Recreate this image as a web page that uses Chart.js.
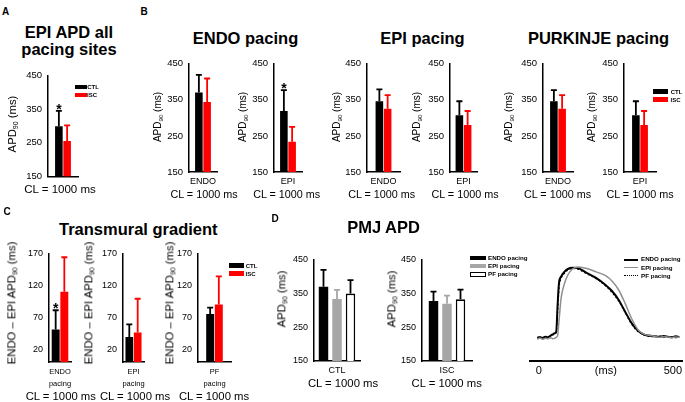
<!DOCTYPE html>
<html>
<head>
<meta charset="utf-8">
<script src="https://cdn.jsdelivr.net/npm/chart.js@4.4.0/dist/chart.umd.min.js"></script>
<style>
  body { margin: 0; background: #fff; }
  #fig { position: relative; width: 685px; height: 402px; overflow: hidden; background: #fff;
         font-family: 'Liberation Sans', Arial, Helvetica, sans-serif; color: #000; }
  #fig canvas { position: absolute; }
  .t { position: absolute; white-space: nowrap; line-height: 1; color: #000; }
  .t sub { font-size: 0.62em; vertical-align: -0.3em; line-height: 0; }
  .bx { position: absolute; box-sizing: border-box; }
</style>
</head>
<body>
<div id="fig"></div>
<script>
// ---------- data ----------
const groups = ['CTL', 'ISC'];
const groupColors = ['#000000', '#ff0000'];
const apdTicks = [150, 250, 350, 450];

// A: EPI APD, all pacing sites
const epiAllMean = [299, 255];
const epiAllSd = [46, 47];
const epiAllSig = [true, false];

// B: recording sites [ENDO, EPI] for each pacing site
const recSites = ['ENDO', 'EPI'];
const pacingTitles = ['ENDO pacing', 'EPI pacing', 'PURKINJE pacing'];
const endoPacCtl = [370, 319], endoPacCtlSd = [49, 58];
const endoPacIsc = [344, 234], endoPacIscSd = [65, 41];
const endoPacSig = [false, true];
const epiPacCtl = [346, 307], epiPacCtlSd = [33, 39];
const epiPacIsc = [325, 280], epiPacIscSd = [38, 39];
const purkPacCtl = [346, 307], purkPacCtlSd = [31, 39];
const purkPacIsc = [325, 280], purkPacIscSd = [38, 39];

// C: transmural gradient (ENDO - EPI APD90)
const gradLabels = [['ENDO', 'pacing'], ['EPI', 'pacing'], ['PF', 'pacing']];
const gradTicks = [20, 70, 120, 170];
const gradCtl = [51, 39, 75], gradCtlSd = [30, 20, 10];
const gradIsc = [110, 46, 90], gradIscSd = [54, 53, 44];
const gradSig = [true, false, false];

// D: PMJ APD, [CTL, ISC]
const pmjGroups = ['CTL', 'ISC'];
const pmjSeries = ['ENDO pacing', 'EPI pacing', 'PF pacing'];
const pmjColors = ['#000000', '#a6a6a6', '#ffffff'];
const pmjEndo = [369, 327], pmjEndoSd = [50, 28];
const pmjEpi = [333, 319], pmjEpiSd = [27, 24];
const pmjPf = [349, 332], pmjPfSd = [40, 29];

// D: action potential traces (time in ms, amplitude in arbitrary units)
const traceT    = [-6, 4, 14, 24, 34, 44, 52, 59, 65, 70, 75, 83, 96, 108, 126, 145, 175, 212, 249, 273, 298, 322, 347, 371, 396, 414, 432, 450, 466, 481, 496, 510, 524];
const traceEndo = [2, 4, 1, 5, 3, 8, 12, 15, 20, 100, 165, 185, 200, 208, 212, 211, 198, 182, 160, 142, 115, 80, 45, 22, 10, 8, 6, 4, 7, 5, 3, 6, 4];
const traceEpi  = [-2, 1, -3, 0, -1, 2, -1, 0, 3, 8, 50, 120, 165, 190, 208, 214, 210, 200, 188, 172, 145, 105, 58, 25, 11, 9, 6, 3, 5, 4, 2, 4, 3];
const tracePf   = [1, -1, 3, 2, 4, 6, 10, 14, 18, 80, 150, 180, 196, 205, 210, 208, 196, 180, 158, 138, 112, 78, 42, 20, 9, 6, 5, 7, 3, 4, 5, 2, 4];
const traceTicks = [0, 250, 500];

// ---------- helpers ----------
const FONT = "'Liberation Sans', Arial, Helvetica, sans-serif";
Chart.defaults.font.family = FONT;
Chart.defaults.color = '#000';
const fig = document.getElementById('fig');

function put(html, x, y, css, rot) {
    const d = document.createElement('div');
    d.className = 't';
    d.innerHTML = html;
    d.style.left = x + 'px';
    d.style.top = y + 'px';
    d.style.transform = 'translate(-50%,-50%)' + (rot ? ' rotate(-90deg)' : '');
    Object.assign(d.style, css || {});
    fig.appendChild(d);
}

function box(x, y, w, h, bg, border) {
    const d = document.createElement('div');
    d.className = 'bx';
    Object.assign(d.style, {left: x + 'px', top: y + 'px', width: w + 'px', height: h + 'px', background: bg});
    if (border) d.style.border = border;
    fig.appendChild(d);
}

// error bars (upper only) and significance stars
const errorBars = {
    id: 'errorBars',
    afterDatasetsDraw(chart) {
        const ctx = chart.ctx, y = chart.scales.y;
        chart.data.datasets.forEach((ds, i) => {
            if (!ds.sd) return;
            chart.getDatasetMeta(i).data.forEach((bar, j) => {
                const top = y.getPixelForValue(ds.data[j] + ds.sd[j]);
                ctx.save();
                ctx.strokeStyle = ds.errColor;
                ctx.lineWidth = 1.8;
                ctx.beginPath();
                ctx.moveTo(bar.x, bar.y);
                ctx.lineTo(bar.x, top);
                ctx.moveTo(bar.x - 3, top);
                ctx.lineTo(bar.x + 3, top);
                ctx.stroke();
                if (ds.sig && ds.sig[j]) {
                    ctx.fillStyle = '#000';
                    ctx.font = 'bold 14px ' + FONT;
                    ctx.textAlign = 'center';
                    ctx.textBaseline = 'alphabetic';
                    ctx.fillText('*', bar.x, top + 3);
                }
                ctx.restore();
            });
        });
    }
};

function barChart(o) {
    const L = o.axisX - 30, T = o.yTop - 8;
    const padR = 10, padB = 2;
    const W = o.right + padR - L;
    const H = o.yBottom + o.xH + padB - T;
    const cv = document.createElement('canvas');
    cv.width = W; cv.height = H;
    cv.style.left = L + 'px';
    cv.style.top = T + 'px';
    fig.appendChild(cv);
    return new Chart(cv, {
        type: 'bar',
        data: {labels: o.labels, datasets: o.datasets},
        options: {
            responsive: false,
            animation: false,
            events: [],
            layout: {padding: {left: 0, top: 8, right: padR, bottom: padB}},
            datasets: {bar: {categoryPercentage: o.cp, barPercentage: o.bp || 0.92}},
            plugins: {legend: {display: false}, tooltip: {enabled: false}},
            scales: {
                x: {
                    offset: true,
                    grid: {display: false, drawTicks: false},
                    border: {color: '#000', width: 1.5},
                    ticks: {font: {size: o.xFont, lineHeight: o.xLH || 1.2}, padding: 4,
                            maxRotation: 0, minRotation: 0, autoSkip: false},
                    afterFit: s => { s.height = o.xH; }
                },
                y: {
                    min: o.min, max: o.max,
                    grid: {display: false, drawTicks: false},
                    border: {color: '#000', width: 1.5},
                    ticks: {font: {size: o.tickFont}, padding: 6},
                    afterBuildTicks: s => { s.ticks = o.ticks.map(v => ({value: v})); },
                    afterFit: s => { s.width = o.axisX - L; }
                }
            }
        },
        plugins: [errorBars]
    });
}

function pairSets(ctl, ctlSd, isc, iscSd, idx, sig) {
    return [
        {label: groups[0], data: [ctl[idx]], sd: [ctlSd[idx]], sig: [sig ? sig[idx] : false],
         backgroundColor: groupColors[0], errColor: groupColors[0]},
        {label: groups[1], data: [isc[idx]], sd: [iscSd[idx]],
         backgroundColor: groupColors[1], errColor: groupColors[1]}
    ];
}

const apdTitle = 'APD<sub>90</sub> (ms)';
const clText = 'CL = 1000 ms';

// ---------- panel A ----------
put('A', 5.5, 11.5, {fontSize: '10px', fontWeight: 'bold'});
put('EPI APD all', 69, 32, {fontSize: '16.5px', fontWeight: 'bold'});
put('pacing sites', 69, 49, {fontSize: '16.5px', fontWeight: 'bold'});
barChart({
    axisX: 47.5, right: 78, yTop: 72.3, yBottom: 182.7, min: 150, max: 450, ticks: apdTicks,
    labels: [''], xH: 4, xFont: 9, tickFont: 9.5, cp: 0.55,
    datasets: [
        {label: groups[0], data: [epiAllMean[0]], sd: [epiAllSd[0]], sig: [epiAllSig[0]],
         backgroundColor: groupColors[0], errColor: groupColors[0]},
        {label: groups[1], data: [epiAllMean[1]], sd: [epiAllSd[1]], sig: [epiAllSig[1]],
         backgroundColor: groupColors[1], errColor: groupColors[1]}
    ]
});
put(apdTitle, 13.3, 124, {fontSize: '11.3px'}, true);
put(clText, 60, 190, {fontSize: '11.5px'});
box(75, 85, 11.7, 4.3, groupColors[0]);
box(75, 92.7, 11.7, 4.3, groupColors[1]);
put(groups[0], 93, 87.2, {fontSize: '6px', fontWeight: 'bold'});
put(groups[1], 92, 94.9, {fontSize: '6px', fontWeight: 'bold'});

// ---------- panel B ----------
put('B', 144, 11.5, {fontSize: '10px', fontWeight: 'bold'});
const bTitleX = [245.5, 422.5, 598.5];
pacingTitles.forEach((t, i) => put(t, bTitleX[i], 37.5, {fontSize: '16.5px', fontWeight: 'bold'}));
const bData = [
    [endoPacCtl, endoPacCtlSd, endoPacIsc, endoPacIscSd, endoPacSig],
    [epiPacCtl, epiPacCtlSd, epiPacIsc, epiPacIscSd, null],
    [purkPacCtl, purkPacCtlSd, purkPacIsc, purkPacIscSd, null]
];
const bAxes = [[189, 217], [274, 302], [367, 400], [450, 477], [543, 573], [624, 656]];
const bTitleXs = [158, 242.7, 336.7, 416.7, 509, 591.7];
const bClXs = [204, 286.7, 381.7, 465, 557.5, 640];
bData.forEach((d, p) => {
    recSites.forEach((site, s) => {
        const k = p * 2 + s;
        const [ax, rt] = bAxes[k];
        barChart({
            axisX: ax, right: rt, yTop: 60, yBottom: 172.7, min: 150, max: 450, ticks: apdTicks,
            labels: [site], xH: 16, xFont: 9, tickFont: 9.5, cp: 16.5 / (rt - ax),
            datasets: pairSets(d[0], d[1], d[2], d[3], s, d[4])
        });
        put(apdTitle, bTitleXs[k], 117, {fontSize: '10px'}, true);
        put(clText, bClXs[k], 194, {fontSize: '10.8px'});
    });
});
box(653.3, 89.3, 15, 5, groupColors[0]);
box(653.3, 97.3, 15, 5, groupColors[1]);
put(groups[0], 676.5, 91.8, {fontSize: '6px', fontWeight: 'bold'});
put(groups[1], 675.5, 99.8, {fontSize: '6px', fontWeight: 'bold'});

// ---------- panel C ----------
put('C', 7, 211.7, {fontSize: '10px', fontWeight: 'bold'});
put('Transmural gradient', 138.3, 228.7, {fontSize: '16.5px', fontWeight: 'bold'});
const cAxes = [[49, 71], [123.3, 145], [198, 231]];
const cTitleXs = [11.7, 89.3, 170];
const cClXs = [60.8, 135, 214];
gradLabels.forEach((lab, i) => {
    const [ax, rt] = cAxes[i];
    barChart({
        axisX: ax, right: rt, yTop: 250, yBottom: 362.7, min: 0, max: 170, ticks: gradTicks,
        labels: [lab], xH: 30, xFont: 7.5, xLH: 1.55, tickFont: 9, cp: 17.3 / (rt - ax),
        datasets: pairSets(gradCtl, gradCtlSd, gradIsc, gradIscSd, i, gradSig)
    });
    put('ENDO \u2013 EPI APD<sub>90</sub> (ms)', cTitleXs[i], 303.3, {fontSize: '11.3px'}, true);
    put(clText, cClXs[i], 397, {fontSize: '11.3px'});
});
box(228.5, 263, 15, 5, groupColors[0]);
box(228.5, 271, 15, 5, groupColors[1]);
put(groups[0], 251.5, 265.5, {fontSize: '6px', fontWeight: 'bold'});
put(groups[1], 250.5, 273.5, {fontSize: '6px', fontWeight: 'bold'});

// ---------- panel D ----------
put('D', 275, 219.2, {fontSize: '10px', fontWeight: 'bold'});
put('PMJ APD', 383.5, 227.2, {fontSize: '16.5px', fontWeight: 'bold'});
const dAxes = [[314, 360], [422, 472]];
const dTitleXs = [281.7, 392];
const dClXs = [343, 446.7];
const pmjMeans = [pmjEndo, pmjEpi, pmjPf], pmjSds = [pmjEndoSd, pmjEpiSd, pmjPfSd];
pmjGroups.forEach((g, i) => {
    const [ax, rt] = dAxes[i];
    barChart({
        axisX: ax, right: rt, yTop: 256, yBottom: 361, min: 150, max: 450, ticks: apdTicks,
        labels: [g], xH: 16, xFont: 9, tickFont: 9, cp: 40.5 / (rt - ax), bp: 0.7,
        datasets: pmjSeries.map((name, k) => ({
            label: name, data: [pmjMeans[k][i]], sd: [pmjSds[k][i]],
            backgroundColor: pmjColors[k],
            borderColor: '#000', borderWidth: k === 2 ? 1.6 : 0,
            errColor: k === 1 ? '#a6a6a6' : '#000'
        }))
    });
    put(apdTitle, dTitleXs[i], 298.5, {fontSize: '11.3px'}, true);
    put(clText, dClXs[i], 383.5, {fontSize: '11.3px'});
});
box(469.5, 255.5, 16, 4.5, pmjColors[0]);
box(469.5, 263.8, 16, 4.5, pmjColors[1]);
box(469.5, 272, 16, 4.8, '#fff', '1.3px solid #000');
pmjSeries.forEach((s, k) => {
    const d = document.createElement('div');
    d.className = 't';
    d.textContent = s;
    Object.assign(d.style, {left: '488px', top: (254.5 + k * 8.3) + 'px', fontSize: '6.2px', fontWeight: 'bold'});
    fig.appendChild(d);
});

// trace panel
(function () {
    const L = 528, T = 245, W = 157, H = 135;
    const cv = document.createElement('canvas');
    cv.width = W; cv.height = H;
    cv.style.left = L + 'px';
    cv.style.top = T + 'px';
    fig.appendChild(cv);
    const pts = arr => traceT.map((t, i) => ({x: t, y: arr[i]}));
    new Chart(cv, {
        type: 'line',
        data: {
            datasets: [
                {label: pmjSeries[1], data: pts(traceEpi), borderColor: '#8f8f8f', borderWidth: 1.5, order: 0},
                {label: pmjSeries[2], data: pts(tracePf), borderColor: '#000', borderWidth: 1.4, borderDash: [2, 2], order: 1},
                {label: pmjSeries[0], data: pts(traceEndo), borderColor: '#000', borderWidth: 2, order: 2}
            ]
        },
        options: {
            responsive: false,
            animation: false,
            events: [],
            elements: {point: {radius: 0}, line: {cubicInterpolationMode: 'monotone'}},
            layout: {padding: {left: 2, top: 10, right: 0, bottom: 0}},
            plugins: {legend: {display: false}, tooltip: {enabled: false}},
            scales: {
                x: {
                    type: 'linear', min: -33, max: 537,
                    grid: {display: false, drawTicks: false},
                    border: {color: '#000', width: 2},
                    ticks: {font: {size: 11}, padding: 3, callback: v => v === 250 ? '(ms)' : v},
                    afterBuildTicks: s => { s.ticks = traceTicks.map(v => ({value: v})); },
                    afterFit: s => { s.height = H - (361 - T); }
                },
                y: {display: false, min: -68, max: 250}
            }
        }
    });
    const styles = ['2px solid #000', '1.5px solid #8f8f8f', '1.5px dotted #000'];
    pmjSeries.forEach((s, k) => {
        const ln = document.createElement('div');
        ln.className = 'bx';
        Object.assign(ln.style, {left: '624px', top: (258.5 + k * 8.4) + 'px', width: '14px', height: '0', borderTop: styles[k]});
        fig.appendChild(ln);
        const d = document.createElement('div');
        d.className = 't';
        d.textContent = s;
        Object.assign(d.style, {left: '641px', top: (256.3 + k * 8.4) + 'px', fontSize: '6.2px', fontWeight: 'bold'});
        fig.appendChild(d);
    });
})();
</script>
</body>
</html>
